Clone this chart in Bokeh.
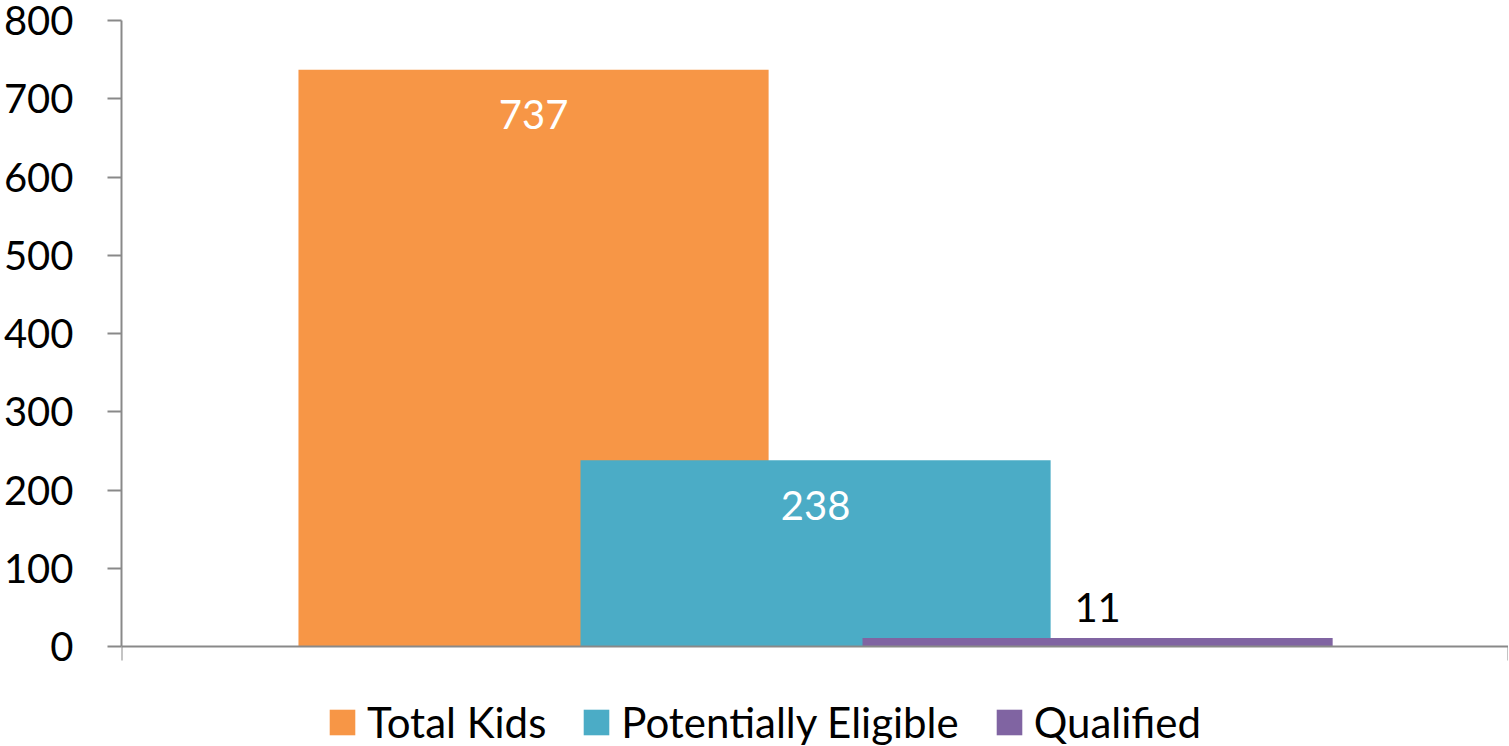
from bokeh.plotting import figure
from bokeh.models import ColumnDataSource, Legend, LegendItem, FixedTicker, Range1d
from bokeh.core.properties import value
from bokeh.embed import file_html
from bokeh.resources import INLINE

categories = ["Total Kids", "Potentially Eligible", "Qualified"]
values = [737, 238, 11]
colors = ["#F79646", "#4BACC6", "#8064A2"]
y_ticks = [0, 100, 200, 300, 400, 500, 600, 700, 800]

FONT = "Lato"
AXIS_COLOR = "#898989"

x_lo, x_hi = -1.461, 3.457
y_lo, y_hi = -132.9, 800   # extra room below zero holds the legend
bar_width = 1.667

p = figure(frame_width=1387, frame_height=730,
           x_range=Range1d(x_lo, x_hi), y_range=Range1d(y_lo, y_hi),
           output_backend="svg", toolbar_location=None,
           min_border_left=120, min_border_right=0, min_border_top=20,
           min_border_bottom=0)
p.outline_line_color = None
p.xgrid.visible = False
p.ygrid.visible = False
p.background_fill_color = "white"
p.border_fill_color = "white"

items = []
for i, (cat, v, c) in enumerate(zip(categories, values, colors)):
    src = ColumnDataSource(dict(x=[i], top=[v]))
    r = p.vbar(x="x", top="top", width=bar_width, bottom=0, source=src,
               fill_color=c, line_color=None)
    items.append(LegendItem(label=cat, renderers=[r]))

# data labels
for i, v in enumerate(values):
    inside = v / y_hi > 0.1
    src = ColumnDataSource(dict(x=[i], y=[v], t=[str(v)]))
    p.text(x="x", y="y", text="t", source=src,
           text_font=value(FONT), text_font_size="40px",
           text_color="white" if inside else "black",
           text_align="center", text_baseline="alphabetic",
           y_offset=45 if inside else -30)

# y axis
yax = p.yaxis[0]
yax.ticker = FixedTicker(ticks=y_ticks)
yax.bounds = (0, y_hi)
yax.major_label_text_font = FONT
yax.major_label_text_font_size = "40px"
yax.major_label_text_color = "black"
yax.major_label_standoff = 34
yax.axis_line_color = AXIS_COLOR
yax.axis_line_width = 2
yax.major_tick_line_color = AXIS_COLOR
yax.major_tick_line_width = 2
yax.major_tick_out = 14
yax.major_tick_in = 0
yax.minor_tick_line_color = None

# x axis, drawn at y = 0
xax = p.xaxis[0]
xax.fixed_location = 0
xax.ticker = FixedTicker(ticks=[x_lo, x_hi])
xax.major_label_text_font_size = "1px"
xax.major_label_text_alpha = 0
xax.major_label_standoff = 0
xax.axis_label_standoff = 0
xax.axis_line_color = AXIS_COLOR
xax.axis_line_width = 2
xax.major_tick_line_color = AXIS_COLOR
xax.major_tick_line_width = 2
xax.major_tick_out = 14
xax.major_tick_in = 0
xax.minor_tick_line_color = None

legend = Legend(items=items, orientation="horizontal", location=(205, 3),
                label_text_font=FONT, label_text_font_size="42px",
                label_text_color="black",
                glyph_width=32, glyph_height=32, label_standoff=9,
                spacing=34, padding=0, margin=0,
                border_line_color=None, background_fill_alpha=0)
p.add_layout(legend, "center")

open("out.html", "w").write(file_html(p, INLINE))
